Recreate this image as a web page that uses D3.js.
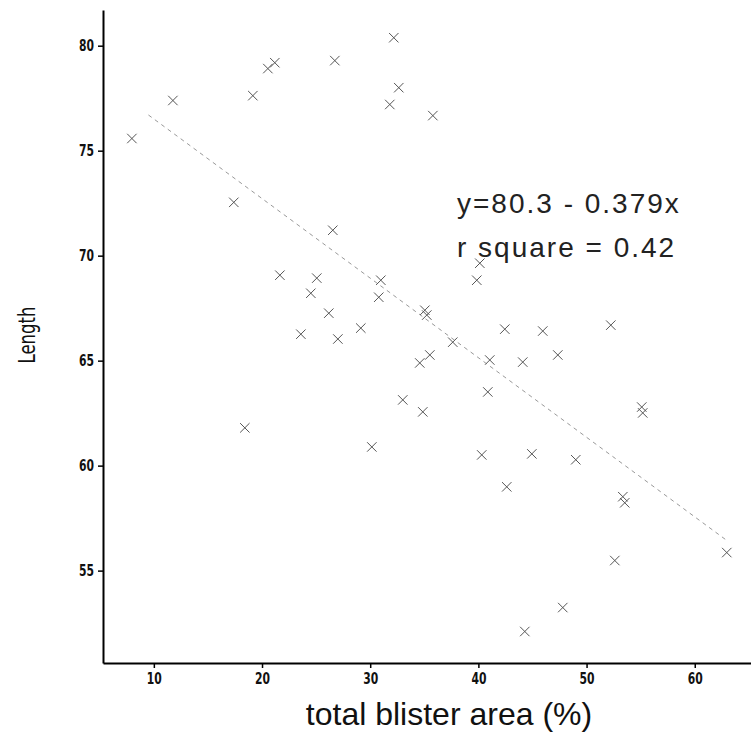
<!DOCTYPE html>
<html>
<head>
<meta charset="utf-8">
<script src="https://cdn.jsdelivr.net/npm/d3@7"></script>
<style>
	body { margin: 0; background: #fff; }
	svg { display: block; }
	.tick text { font-family: "DejaVu Sans", sans-serif; font-weight: bold; font-size: 15px; fill: #111; }
</style>
</head>
<body>
<div id="divChart"></div>
<script>
'use strict';

const width = 751;
const height = 735;

// total blister area (%) and length
const blisterArea = [
	7.97, 11.76, 17.39, 19.15, 20.54, 21.18, 26.73, 32.18, 32.64, 31.81,
	35.79, 26.54, 21.65, 25.06, 24.51, 26.17, 23.59, 27.01, 29.13, 30.98,
	30.79, 35.05, 35.23, 37.63, 35.51, 34.58, 41.05, 40.13, 39.85, 40.87,
	33.01, 34.86, 30.15, 40.31, 18.41, 42.44, 45.95, 52.24, 44.10, 47.34,
	55.10, 55.19, 44.94, 49.00, 42.62, 53.35, 53.53, 62.96, 52.61, 47.80,
	44.29
];
const lengthValues = [
	75.58, 77.39, 72.54, 77.62, 78.91, 79.19, 79.29, 80.38, 78.00, 77.20,
	76.67, 71.21, 69.07, 68.93, 68.21, 67.26, 66.26, 66.03, 66.55, 68.83,
	68.02, 67.40, 67.17, 65.88, 65.27, 64.89, 65.03, 69.64, 68.83, 63.51,
	63.13, 62.56, 60.89, 60.51, 61.80, 66.50, 66.41, 66.69, 64.93, 65.27,
	62.79, 62.51, 60.56, 60.28, 58.99, 58.52, 58.23, 55.86, 55.48, 53.24,
	52.10
];

const xTickValues = [10, 20, 30, 40, 50, 60];
const yTickValues = [55, 60, 65, 70, 75, 80];

// fitted line
const intercept = 80.3;
const slope = -0.379;
const rSquare = 0.42;
const fitRange = [9.5, 63];

const xLabel = 'total blister area (%)';
const yLabel = 'Length';

const narrow = 0.72;

const svg = d3.select('#divChart')
	.append('svg')
	.attr('width', width)
	.attr('height', height);

const x = d3.scaleLinear()
	.domain([5.3, 65.2])
	.range([103, 751]);
const y = d3.scaleLinear()
	.domain([50.6, 81.7])
	.range([663, 10]);

// regression line
svg.append('line')
	.attr('x1', x(fitRange[0]))
	.attr('y1', y(intercept + slope * fitRange[0]))
	.attr('x2', x(fitRange[1]))
	.attr('y2', y(intercept + slope * fitRange[1]))
	.style('stroke', '#999')
	.style('stroke-width', 1)
	.style('stroke-dasharray', '4,4');

// points
const points = blisterArea.map((d, i) => [d, lengthValues[i]]);
svg.append('g')
	.selectAll('path')
	.data(points)
	.join('path')
	.attr('transform', d => `translate(${x(d[0])},${y(d[1])})`)
	.attr('d', d3.symbol(d3.symbolX, 60))
	.style('fill', 'none')
	.style('stroke', '#555')
	.style('stroke-width', 1);

// axes
const xAxis = svg.append('g')
	.attr('transform', `translate(0,${y.range()[0]})`)
	.call(d3.axisBottom(x).tickValues(xTickValues).tickSizeInner(5).tickSizeOuter(0).tickPadding(5));
const yAxis = svg.append('g')
	.attr('transform', `translate(${x.range()[0]},0)`)
	.call(d3.axisLeft(y).tickValues(yTickValues).tickSizeInner(5).tickSizeOuter(0).tickPadding(4));
[xAxis, yAxis].forEach(axis => {
	axis.select('.domain').style('stroke', '#000').style('stroke-width', 2);
	axis.selectAll('.tick line').style('stroke', '#000').style('stroke-width', 1.5);
	axis.selectAll('.tick text').attr('transform', `scale(${narrow},1)`);
});
// keep the squeezed y labels right-aligned next to the ticks
yAxis.selectAll('.tick text').attr('x', -9 / narrow);

// axis titles
svg.append('text')
	.attr('x', 449)
	.attr('y', 725)
	.attr('text-anchor', 'middle')
	.style('font-family', '"Liberation Sans", Arial, sans-serif')
	.style('font-size', '32px')
	.style('fill', '#111')
	.text(xLabel);

svg.append('text')
	.attr('transform', `translate(35,335) rotate(-90) scale(${narrow},1)`)
	.attr('text-anchor', 'middle')
	.style('font-family', '"DejaVu Sans", sans-serif')
	.style('font-size', '23px')
	.style('fill', '#111')
	.text(yLabel);

// equation
const equation = svg.append('text')
	.style('font-family', '"Liberation Sans", Arial, sans-serif')
	.style('font-size', '28px')
	.style('letter-spacing', '2px')
	.style('fill', '#222');
equation.append('tspan')
	.attr('x', 457)
	.attr('y', 213)
	.text(`y=${intercept} - ${-slope}x`);
equation.append('tspan')
	.attr('x', 457)
	.attr('y', 257)
	.text(`r square = ${rSquare}`);
</script>
</body>
</html>
